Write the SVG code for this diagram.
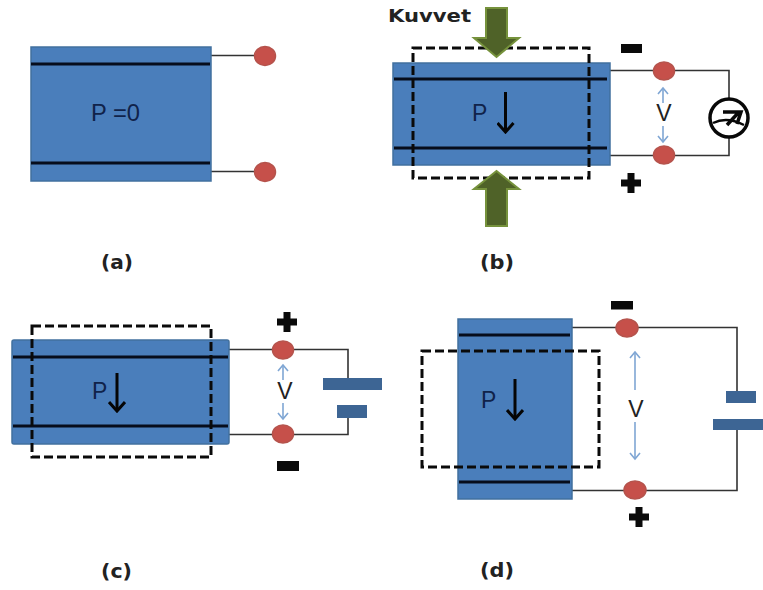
<svg xmlns="http://www.w3.org/2000/svg" width="763" height="590" viewBox="0 0 763 590">
<defs>
<style>
.pz{fill:#4a7ebb;stroke:#41709f;stroke-width:1.5}
.el{stroke:#060d1c;stroke-width:3;fill:none}
.w{stroke:#333;stroke-width:1.6;fill:none}
.n{fill:#c6504a;stroke:#b5534c;stroke-width:1.5}
.d{fill:none;stroke:#0a0a0a;stroke-width:3;stroke-dasharray:9 4}
.t{font-family:"Liberation Sans",Arial,sans-serif;font-size:23px}
.p{fill:#10234a}
.v{fill:#222;text-anchor:middle}
.cap{font-family:"DejaVu Sans",Verdana,sans-serif;font-weight:bold;font-size:19px;fill:#222}
.ar{stroke:#050505;stroke-width:3;fill:none;marker-end:url(#ah)}
.ba{stroke:#7fa6d4;stroke-width:1.6;fill:none;marker-end:url(#bh)}
.plate{fill:#3d6594}
.sign{fill:#0a0a0a}
.gr{fill:#4f6228;stroke:#76923c;stroke-width:2}
</style>
<marker id="ah" markerUnits="userSpaceOnUse" markerWidth="14" markerHeight="18" refX="12" refY="9" orient="auto" viewBox="0 0 14 18"><path d="M3 1 L12 9 L3 17" fill="none" stroke="#050505" stroke-width="3"/></marker>
<marker id="bh" markerUnits="userSpaceOnUse" markerWidth="12" markerHeight="12" refX="10" refY="6" orient="auto" viewBox="0 0 12 12"><path d="M4 1 L10 6 L4 11" fill="none" stroke="#7fa6d4" stroke-width="1.6"/></marker>
<path id="plus" d="M-3.5 -10 H3.500 V-3.500 H10 V3.500 H3.500 V10 H-3.500 V3.500 H-10 V-3.500 H-3.500 Z"/>
</defs>
<rect width="763" height="590" fill="#fff"/>

<g id="connectors">
<path class="w" d="M211 55.500 H254 M211 171.500 H254"/>
<path class="w" d="M610 70.500 H729 V99 M610 155.500 H729 V137"/>
<path class="w" d="M229 349.500 H348 V378 M229 434.500 H348 V418"/>
<path class="w" d="M572 327.500 H737 V391 M572 490.500 H737 V430"/>
</g>

<g id="panel-a">
<rect class="pz" x="31" y="47" width="180" height="134"/>
<path class="el" d="M31 64 H210 M31 163 H210"/>
<text class="t p" x="91" y="121" textLength="49" lengthAdjust="spacingAndGlyphs">P =0</text>
<ellipse class="n" cx="265" cy="56" rx="10.500" ry="9.500"/>
<ellipse class="n" cx="265" cy="172" rx="10.500" ry="9.500"/>
<text class="cap" x="101" y="269" textLength="32" lengthAdjust="spacingAndGlyphs">(a)</text>
</g>

<g id="panel-b">
<rect class="pz" x="393" y="63" width="217" height="102"/>
<path class="el" d="M394 79 H607 M394 148 H607"/>
<rect class="d" x="413" y="48" width="176" height="130"/>
<path class="gr" d="M486 8 H507 V38 H519 L496.500 57 L474 38 H486 Z"/>
<path class="gr" d="M486 226 H507 V189 H519 L496.500 171 L474 189 H486 Z"/>
<text x="388" y="22" font-family="DejaVu Sans, Verdana, sans-serif" font-size="18" font-weight="bold" fill="#222" textLength="83" lengthAdjust="spacingAndGlyphs">Kuvvet</text>
<text class="t p" x="472" y="121">P</text>
<path class="ar" d="M505.500 92 V132"/>
<text class="t v" x="664" y="121">V</text>
<path class="ba" d="M663 103 V88"/>
<path class="ba" d="M663 126 V142"/>
<ellipse class="n" cx="664" cy="71" rx="10.500" ry="9"/>
<ellipse class="n" cx="664" cy="155" rx="10.500" ry="9"/>
<rect class="sign" x="621" y="44" width="21" height="9"/>
<use class="sign" href="#plus" x="631" y="183"/>
<text class="cap" x="480" y="269" textLength="34" lengthAdjust="spacingAndGlyphs">(b)</text>
</g>

<g id="meter">
<circle cx="729" cy="118" r="19" fill="#fff" stroke="#080808" stroke-width="3.500"/>
<path d="M713 123 Q727 116 744 125" fill="none" stroke="#080808" stroke-width="2.500"/>
<path d="M727 125 L739 112 M723 112 H741 L737 124" fill="none" stroke="#080808" stroke-width="3.500"/>
</g>

<g id="panel-c">
<rect class="pz" x="12" y="340" width="217" height="104" rx="2"/>
<path class="el" d="M13 357 H228 M13 426 H228"/>
<rect class="d" x="32" y="326" width="179" height="131"/>
<text class="t p" x="92" y="399">P</text>
<path class="ar" d="M117 373 V411"/>
<text class="t v" x="285" y="399">V</text>
<path class="ba" d="M283 380 V365"/>
<path class="ba" d="M283 403 V419"/>
<ellipse class="n" cx="283" cy="350" rx="10.500" ry="9"/>
<ellipse class="n" cx="283" cy="434" rx="10.500" ry="9"/>
<rect class="plate" x="323" y="378" width="59" height="12"/>
<rect class="plate" x="337" y="405" width="30" height="13"/>
<use class="sign" href="#plus" x="287" y="322"/>
<rect class="sign" x="277" y="461" width="22" height="10"/>
<text class="cap" x="101" y="578" textLength="31" lengthAdjust="spacingAndGlyphs">(c)</text>
</g>

<g id="panel-d">
<rect class="pz" x="458" y="319" width="114" height="180"/>
<path class="el" d="M459 335 H570 M459 482 H570"/>
<rect class="d" x="422" y="351" width="177" height="116"/>
<text class="t p" x="481" y="408">P</text>
<path class="ar" d="M515 379 V419"/>
<text class="t v" x="636" y="417">V</text>
<path class="ba" d="M635 390 V352"/>
<path class="ba" d="M635 422 V459"/>
<ellipse class="n" cx="627" cy="328" rx="11" ry="9"/>
<ellipse class="n" cx="635" cy="490" rx="11" ry="9"/>
<rect class="plate" x="726" y="391" width="30" height="12"/>
<rect class="plate" x="713" y="419" width="50" height="11"/>
<rect class="sign" x="611" y="301" width="22" height="8.500"/>
<use class="sign" href="#plus" x="639" y="517"/>
<text class="cap" x="480" y="577" textLength="34" lengthAdjust="spacingAndGlyphs">(d)</text>
</g>
</svg>
